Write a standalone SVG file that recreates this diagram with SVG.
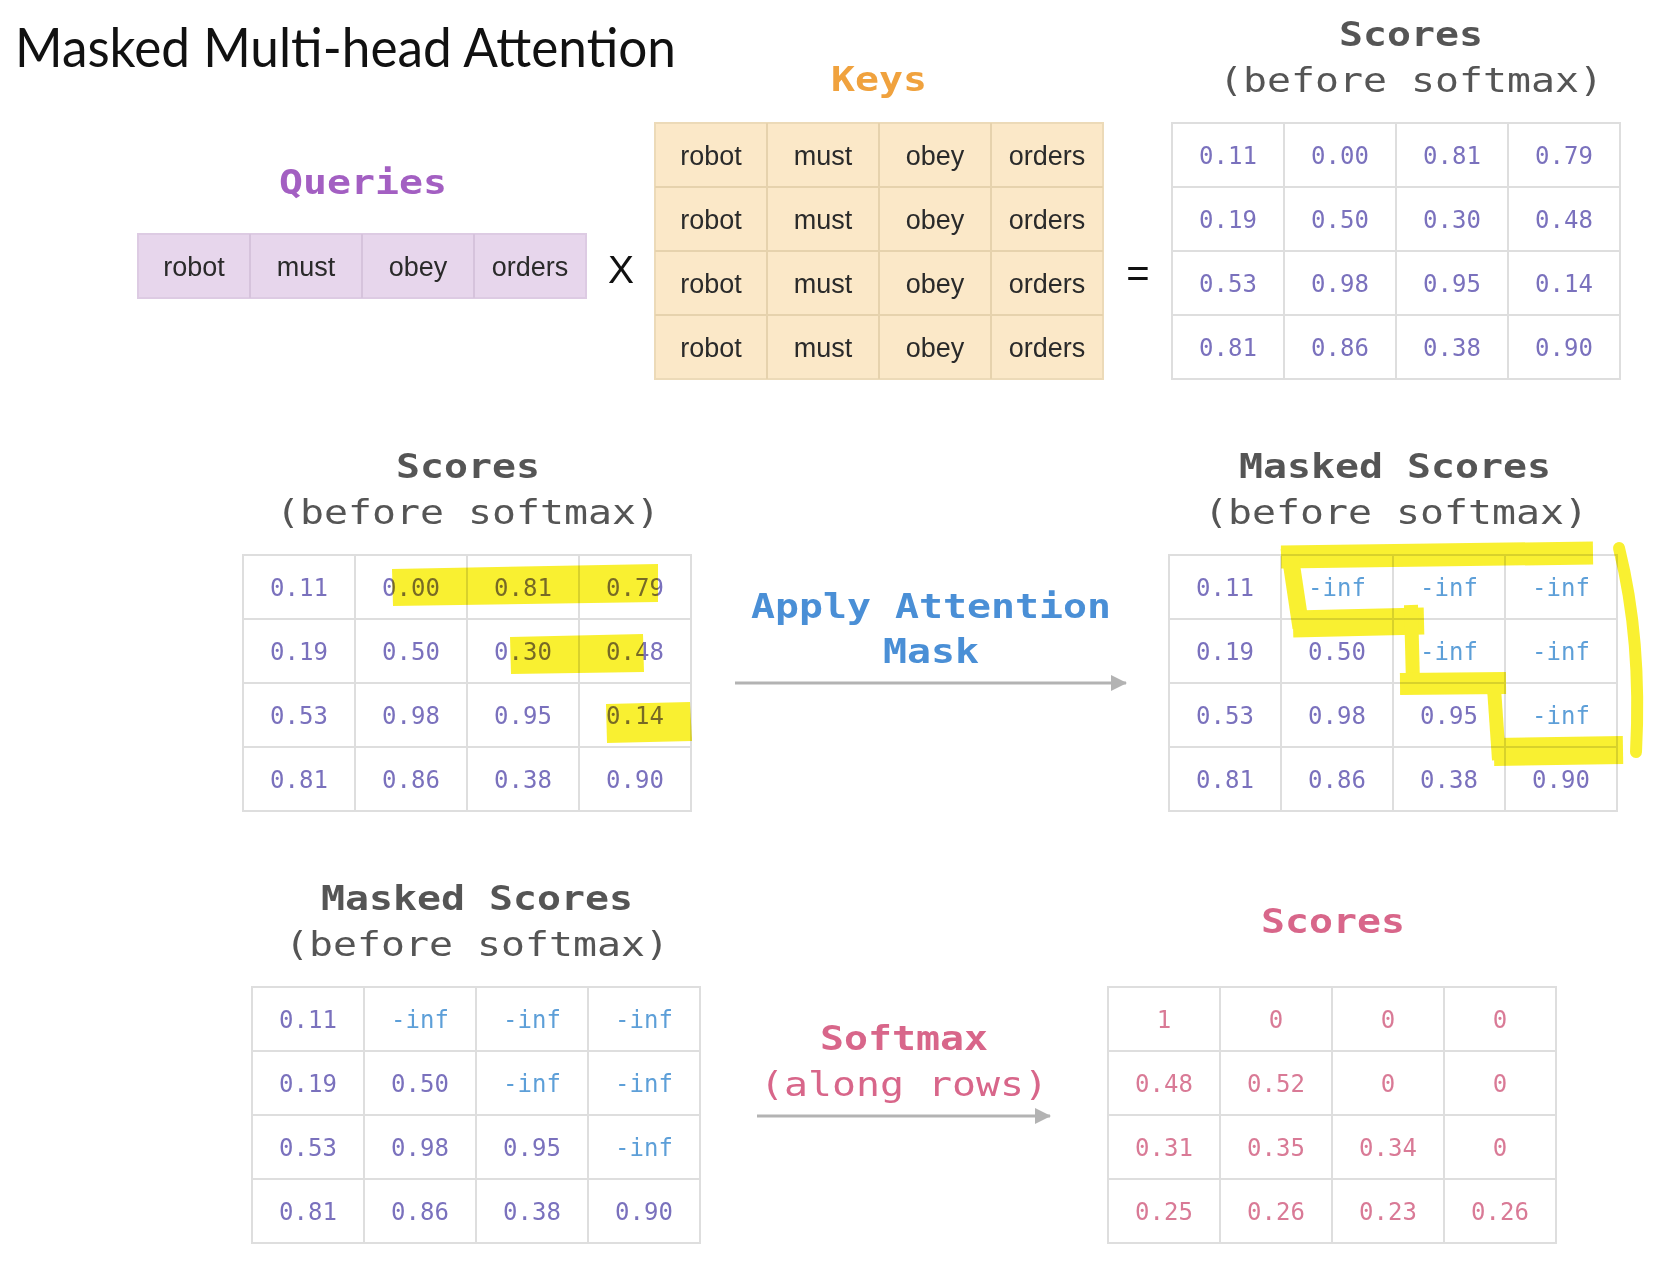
<svg xmlns="http://www.w3.org/2000/svg" width="1664" height="1266" viewBox="0 0 1664 1266">
<style>
.title{font-family:Lato,"Open Sans","Liberation Sans",sans-serif;font-size:55px;fill:#111}
.head{font-family:"DejaVu Sans Mono","Liberation Mono",monospace;font-size:33px;font-weight:bold;fill:#555;text-anchor:middle}
.sub{font-family:"DejaVu Sans Mono","Liberation Mono",monospace;font-size:33px;fill:#555;text-anchor:middle}
.word{font-family:"Liberation Sans",Arial,sans-serif;font-size:27px;fill:#2a2a2a;text-anchor:middle}
.num{font-family:"DejaVu Sans Mono","Liberation Mono",monospace;font-size:24px;fill:#7a71bd;text-anchor:middle}
.inf{font-family:"DejaVu Sans Mono","Liberation Mono",monospace;font-size:24px;fill:#5d9fd8;text-anchor:middle}
.pnum{font-family:"DejaVu Sans Mono","Liberation Mono",monospace;font-size:24px;fill:#d97a96;text-anchor:middle}
.grid{fill:#fff;stroke:#dedede;stroke-width:2}
.gl{fill:none;stroke:#dedede;stroke-width:2}
.op{font-family:"Liberation Sans",Arial,sans-serif;fill:#111;text-anchor:middle}
.hl{mix-blend-mode:multiply;opacity:0.92}
.conn{stroke:#b3b3b3;stroke-width:3;fill:none}
</style>
<defs>
<marker id="arr" markerUnits="userSpaceOnUse" markerWidth="16" markerHeight="16" refX="15" refY="8" orient="auto">
<path d="M0,0 L16,8 L0,16 Z" fill="#b3b3b3"/>
</marker>
</defs>
<rect width="1664" height="1266" fill="#fff"/>

<g id="title">
<text class="title" x="15" y="67" textLength="661" lengthAdjust="spacingAndGlyphs">Masked Multi-head Attention</text>
</g>

<g id="queries">
<text class="head" x="363" y="194" style="fill:#a35fc2" textLength="168" lengthAdjust="spacingAndGlyphs">Queries</text>
<rect x="138" y="234" width="448" height="64" fill="#e7d6ec" stroke="#ddcbe3" stroke-width="2"/>
<path d="M250,234V298M362,234V298M474,234V298" stroke="#d6c3dc" stroke-width="2"/>
<text class="word" x="194" y="276">robot</text>
<text class="word" x="306" y="276">must</text>
<text class="word" x="418" y="276">obey</text>
<text class="word" x="530" y="276">orders</text>
</g>

<g id="times">
<text class="op" x="621" y="283" font-size="39">X</text>
</g>

<g id="keys">
<text class="head" x="879" y="91" style="fill:#f0a23e" textLength="96" lengthAdjust="spacingAndGlyphs">Keys</text>
<rect x="655" y="123" width="448" height="256" fill="#fbe8c8" stroke="#ecdab8" stroke-width="2"/>
<path d="M767,123V379M879,123V379M991,123V379M655,187H1103M655,251H1103M655,315H1103" stroke="#e6d2ad" stroke-width="2"/>
<text class="word" x="711" y="165">robot</text><text class="word" x="823" y="165">must</text><text class="word" x="935" y="165">obey</text><text class="word" x="1047" y="165">orders</text>
<text class="word" x="711" y="229">robot</text><text class="word" x="823" y="229">must</text><text class="word" x="935" y="229">obey</text><text class="word" x="1047" y="229">orders</text>
<text class="word" x="711" y="293">robot</text><text class="word" x="823" y="293">must</text><text class="word" x="935" y="293">obey</text><text class="word" x="1047" y="293">orders</text>
<text class="word" x="711" y="357">robot</text><text class="word" x="823" y="357">must</text><text class="word" x="935" y="357">obey</text><text class="word" x="1047" y="357">orders</text>
</g>

<g id="equals">
<text class="op" x="1138" y="287" font-size="40">=</text>
</g>

<g id="scores-top">
<text class="head" x="1411" y="46" textLength="144" lengthAdjust="spacingAndGlyphs">Scores</text>
<text class="sub" x="1411" y="92" textLength="384" lengthAdjust="spacingAndGlyphs">(before softmax)</text>
<rect class="grid" x="1172" y="123" width="448" height="256"/>
<path class="gl" d="M1284,123V379M1396,123V379M1508,123V379M1172,187H1620M1172,251H1620M1172,315H1620"/>
<text class="num" x="1228" y="164">0.11</text><text class="num" x="1340" y="164">0.00</text><text class="num" x="1452" y="164">0.81</text><text class="num" x="1564" y="164">0.79</text>
<text class="num" x="1228" y="228">0.19</text><text class="num" x="1340" y="228">0.50</text><text class="num" x="1452" y="228">0.30</text><text class="num" x="1564" y="228">0.48</text>
<text class="num" x="1228" y="292">0.53</text><text class="num" x="1340" y="292">0.98</text><text class="num" x="1452" y="292">0.95</text><text class="num" x="1564" y="292">0.14</text>
<text class="num" x="1228" y="356">0.81</text><text class="num" x="1340" y="356">0.86</text><text class="num" x="1452" y="356">0.38</text><text class="num" x="1564" y="356">0.90</text>
</g>

<g id="scores-mid">
<text class="head" x="468" y="478" textLength="144" lengthAdjust="spacingAndGlyphs">Scores</text>
<text class="sub" x="468" y="524" textLength="384" lengthAdjust="spacingAndGlyphs">(before softmax)</text>
<rect class="grid" x="243" y="555" width="448" height="256"/>
<path class="gl" d="M355,555V811M467,555V811M579,555V811M243,619H691M243,683H691M243,747H691"/>
<text class="num" x="299" y="596">0.11</text><text class="num" x="411" y="596">0.00</text><text class="num" x="523" y="596">0.81</text><text class="num" x="635" y="596">0.79</text>
<text class="num" x="299" y="660">0.19</text><text class="num" x="411" y="660">0.50</text><text class="num" x="523" y="660">0.30</text><text class="num" x="635" y="660">0.48</text>
<text class="num" x="299" y="724">0.53</text><text class="num" x="411" y="724">0.98</text><text class="num" x="523" y="724">0.95</text><text class="num" x="635" y="724">0.14</text>
<text class="num" x="299" y="788">0.81</text><text class="num" x="411" y="788">0.86</text><text class="num" x="523" y="788">0.38</text><text class="num" x="635" y="788">0.90</text>
<g class="hl" fill="#f9ef1f">
<path d="M392,569 L658,564 L658,602 L393,606 Z"/>
<path d="M510,637 L643,634 L644,672 L511,674 Z"/>
<path d="M606,704 L690,702 L692,741 L607,743 Z"/>
</g>
</g>

<g id="masked-mid">
<text class="head" x="1395" y="478" textLength="312" lengthAdjust="spacingAndGlyphs">Masked Scores</text>
<text class="sub" x="1396" y="524" textLength="384" lengthAdjust="spacingAndGlyphs">(before softmax)</text>
<rect class="grid" x="1169" y="555" width="448" height="256"/>
<path class="gl" d="M1281,555V811M1393,555V811M1505,555V811M1169,619H1617M1169,683H1617M1169,747H1617"/>
<text class="num" x="1225" y="596">0.11</text><text class="inf" x="1337" y="596">-inf</text><text class="inf" x="1449" y="596">-inf</text><text class="inf" x="1561" y="596">-inf</text>
<text class="num" x="1225" y="660">0.19</text><text class="num" x="1337" y="660">0.50</text><text class="inf" x="1449" y="660">-inf</text><text class="inf" x="1561" y="660">-inf</text>
<text class="num" x="1225" y="724">0.53</text><text class="num" x="1337" y="724">0.98</text><text class="num" x="1449" y="724">0.95</text><text class="inf" x="1561" y="724">-inf</text>
<text class="num" x="1225" y="788">0.81</text><text class="num" x="1337" y="788">0.86</text><text class="num" x="1449" y="788">0.38</text><text class="num" x="1561" y="788">0.90</text>
<g class="hl" fill="none" stroke="#f9ef1f">
<path d="M1281,557 L1593,553" stroke-width="23"/>
<path d="M1289,548 L1301,628" stroke-width="17"/>
<path d="M1293,624 L1424,621" stroke-width="27"/>
<path d="M1411,605 L1413,684" stroke-width="14"/>
<path d="M1400,684 L1506,683" stroke-width="22"/>
<path d="M1494,688 L1499,760" stroke-width="14"/>
<path d="M1494,752 L1623,750" stroke-width="28"/>
<path d="M1619,548 Q1642,640 1636,752" stroke-width="12" stroke-linecap="round"/>
</g>
</g>

<g id="masked-bottom">
<text class="head" x="477" y="910" textLength="312" lengthAdjust="spacingAndGlyphs">Masked Scores</text>
<text class="sub" x="477" y="956" textLength="384" lengthAdjust="spacingAndGlyphs">(before softmax)</text>
<rect class="grid" x="252" y="987" width="448" height="256"/>
<path class="gl" d="M364,987V1243M476,987V1243M588,987V1243M252,1051H700M252,1115H700M252,1179H700"/>
<text class="num" x="308" y="1028">0.11</text><text class="inf" x="420" y="1028">-inf</text><text class="inf" x="532" y="1028">-inf</text><text class="inf" x="644" y="1028">-inf</text>
<text class="num" x="308" y="1092">0.19</text><text class="num" x="420" y="1092">0.50</text><text class="inf" x="532" y="1092">-inf</text><text class="inf" x="644" y="1092">-inf</text>
<text class="num" x="308" y="1156">0.53</text><text class="num" x="420" y="1156">0.98</text><text class="num" x="532" y="1156">0.95</text><text class="inf" x="644" y="1156">-inf</text>
<text class="num" x="308" y="1220">0.81</text><text class="num" x="420" y="1220">0.86</text><text class="num" x="532" y="1220">0.38</text><text class="num" x="644" y="1220">0.90</text>
</g>

<g id="scores-final">
<text class="head" x="1333" y="933" style="fill:#d8668a" textLength="144" lengthAdjust="spacingAndGlyphs">Scores</text>
<rect class="grid" x="1108" y="987" width="448" height="256"/>
<path class="gl" d="M1220,987V1243M1332,987V1243M1444,987V1243M1108,1051H1556M1108,1115H1556M1108,1179H1556"/>
<text class="pnum" x="1164" y="1028">1</text><text class="pnum" x="1276" y="1028">0</text><text class="pnum" x="1388" y="1028">0</text><text class="pnum" x="1500" y="1028">0</text>
<text class="pnum" x="1164" y="1092">0.48</text><text class="pnum" x="1276" y="1092">0.52</text><text class="pnum" x="1388" y="1092">0</text><text class="pnum" x="1500" y="1092">0</text>
<text class="pnum" x="1164" y="1156">0.31</text><text class="pnum" x="1276" y="1156">0.35</text><text class="pnum" x="1388" y="1156">0.34</text><text class="pnum" x="1500" y="1156">0</text>
<text class="pnum" x="1164" y="1220">0.25</text><text class="pnum" x="1276" y="1220">0.26</text><text class="pnum" x="1388" y="1220">0.23</text><text class="pnum" x="1500" y="1220">0.26</text>
</g>

<g id="connectors">
<g id="mask-arrow">
<line class="conn" x1="735" y1="683" x2="1126" y2="683" marker-end="url(#arr)"/>
<text class="head" x="931" y="618" style="fill:#4a8fd6" textLength="360" lengthAdjust="spacingAndGlyphs">Apply Attention</text>
<text class="head" x="931" y="663" style="fill:#4a8fd6" textLength="96" lengthAdjust="spacingAndGlyphs">Mask</text>
</g>
<g id="softmax-arrow">
<line class="conn" x1="757" y1="1116" x2="1050" y2="1116" marker-end="url(#arr)"/>
<text class="head" x="904" y="1050" style="fill:#d8668a" textLength="168" lengthAdjust="spacingAndGlyphs">Softmax</text>
<text class="sub" x="904" y="1096" style="fill:#d8668a" textLength="288" lengthAdjust="spacingAndGlyphs">(along rows)</text>
</g>
</g>
</svg>
